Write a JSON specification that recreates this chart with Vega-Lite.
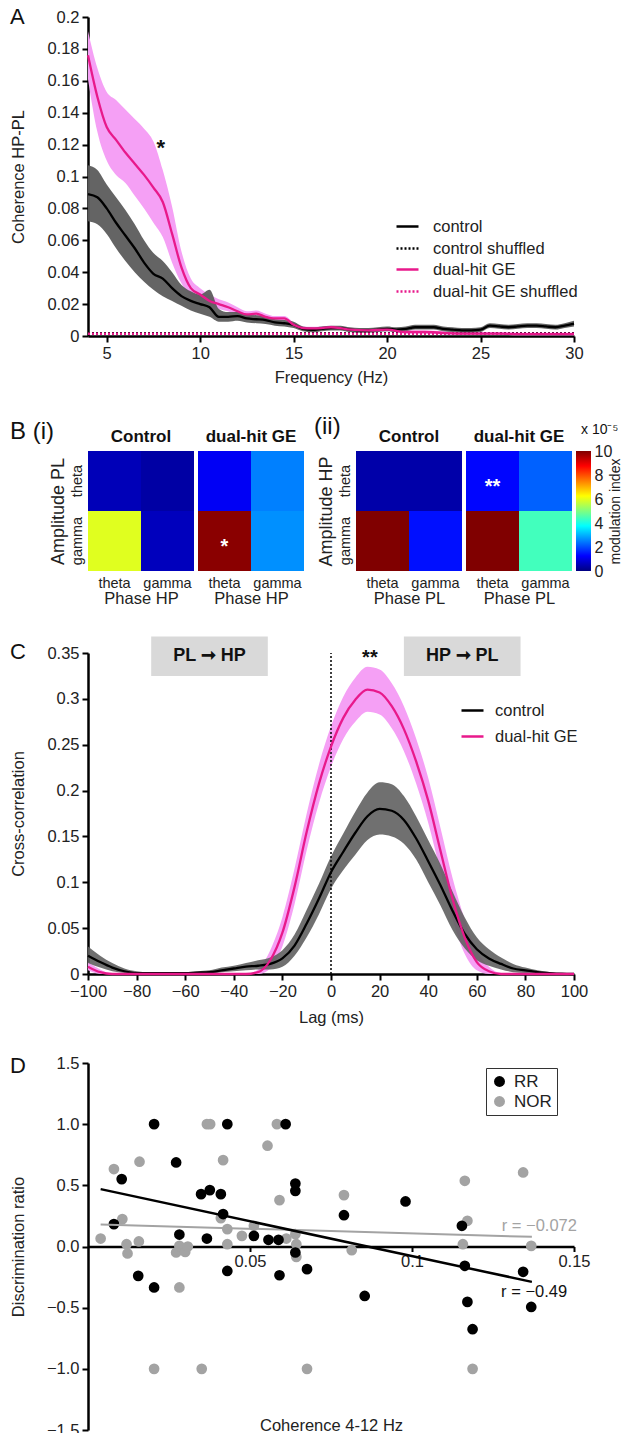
{
"$schema": "https://vega.github.io/schema/vega-lite/v6.json",
"padding": {"left": 10, "top": 6, "right": 0, "bottom": 0},
"columns": 1,
"align": "none",
"spacing": 29,
"config": {
  "font": "Liberation Sans",
  "view": {"stroke": null},
  "axis": {"labelFontSize": 16.5, "labelColor": "#222", "titleFontSize": 16.5, "titleFontWeight": "normal", "titleColor": "#222", "grid": false, "domainColor": "#000", "domainWidth": 2.5, "tickColor": "#000", "tickWidth": 2, "tickSize": 6, "labelPadding": 3, "labelOverlap": false, "labelFlush": false},
  "legend": {"labelFontSize": 16.5, "labelColor": "#222"},
  "title": {"color": "#111"}
},
"datasets": {
  "coh": [
    {"f":4,"series":"control","m":0.089,"lo":0.072,"hi":0.107},
    {"f":4.5,"series":"control","m":0.087,"lo":0.070,"hi":0.104},
    {"f":5,"series":"control","m":0.080,"lo":0.064,"hi":0.095},
    {"f":5.5,"series":"control","m":0.071,"lo":0.055,"hi":0.087},
    {"f":6,"series":"control","m":0.063,"lo":0.047,"hi":0.079},
    {"f":6.5,"series":"control","m":0.055,"lo":0.040,"hi":0.070},
    {"f":7,"series":"control","m":0.046,"lo":0.034,"hi":0.060},
    {"f":7.5,"series":"control","m":0.039,"lo":0.029,"hi":0.052},
    {"f":8,"series":"control","m":0.036,"lo":0.025,"hi":0.047},
    {"f":8.5,"series":"control","m":0.030,"lo":0.022,"hi":0.040},
    {"f":9,"series":"control","m":0.025,"lo":0.019,"hi":0.032},
    {"f":9.5,"series":"control","m":0.022,"lo":0.016,"hi":0.028},
    {"f":10,"series":"control","m":0.020,"lo":0.014,"hi":0.026},
    {"f":10.5,"series":"control","m":0.018,"lo":0.012,"hi":0.029},
    {"f":11,"series":"control","m":0.012,"lo":0.009,"hi":0.017},
    {"f":11.5,"series":"control","m":0.012,"lo":0.009,"hi":0.015},
    {"f":12,"series":"control","m":0.0125,"lo":0.0095,"hi":0.015},
    {"f":12.5,"series":"control","m":0.011,"lo":0.0085,"hi":0.0135},
    {"f":13,"series":"control","m":0.0105,"lo":0.008,"hi":0.013},
    {"f":13.5,"series":"control","m":0.010,"lo":0.0075,"hi":0.0125},
    {"f":14,"series":"control","m":0.0085,"lo":0.0065,"hi":0.0105},
    {"f":14.5,"series":"control","m":0.008,"lo":0.006,"hi":0.010},
    {"f":15,"series":"control","m":0.007,"lo":0.005,"hi":0.009},
    {"f":15.5,"series":"control","m":0.0045,"lo":0.003,"hi":0.006},
    {"f":16,"series":"control","m":0.0038,"lo":0.0023,"hi":0.0053},
    {"f":16.5,"series":"control","m":0.0045,"lo":0.003,"hi":0.006},
    {"f":17,"series":"control","m":0.005,"lo":0.0035,"hi":0.0065},
    {"f":17.5,"series":"control","m":0.005,"lo":0.0035,"hi":0.0065},
    {"f":18,"series":"control","m":0.004,"lo":0.0025,"hi":0.0055},
    {"f":18.5,"series":"control","m":0.0035,"lo":0.002,"hi":0.005},
    {"f":19,"series":"control","m":0.0035,"lo":0.002,"hi":0.005},
    {"f":19.5,"series":"control","m":0.004,"lo":0.0025,"hi":0.0055},
    {"f":20,"series":"control","m":0.0045,"lo":0.003,"hi":0.006},
    {"f":20.5,"series":"control","m":0.004,"lo":0.0025,"hi":0.0055},
    {"f":21,"series":"control","m":0.0045,"lo":0.003,"hi":0.006},
    {"f":21.5,"series":"control","m":0.0055,"lo":0.004,"hi":0.007},
    {"f":22,"series":"control","m":0.0055,"lo":0.004,"hi":0.007},
    {"f":22.5,"series":"control","m":0.0055,"lo":0.004,"hi":0.007},
    {"f":23,"series":"control","m":0.0045,"lo":0.003,"hi":0.006},
    {"f":23.5,"series":"control","m":0.004,"lo":0.0025,"hi":0.0055},
    {"f":24,"series":"control","m":0.0035,"lo":0.002,"hi":0.005},
    {"f":24.5,"series":"control","m":0.0035,"lo":0.002,"hi":0.005},
    {"f":25,"series":"control","m":0.004,"lo":0.0025,"hi":0.0055},
    {"f":25.5,"series":"control","m":0.0065,"lo":0.005,"hi":0.008},
    {"f":26,"series":"control","m":0.006,"lo":0.0045,"hi":0.0075},
    {"f":26.5,"series":"control","m":0.0055,"lo":0.004,"hi":0.007},
    {"f":27,"series":"control","m":0.006,"lo":0.0045,"hi":0.0075},
    {"f":27.5,"series":"control","m":0.0065,"lo":0.005,"hi":0.008},
    {"f":28,"series":"control","m":0.0065,"lo":0.005,"hi":0.008},
    {"f":28.5,"series":"control","m":0.006,"lo":0.0045,"hi":0.0075},
    {"f":29,"series":"control","m":0.0055,"lo":0.004,"hi":0.007},
    {"f":29.5,"series":"control","m":0.0065,"lo":0.005,"hi":0.008},
    {"f":30,"series":"control","m":0.0078,"lo":0.006,"hi":0.0095},
    {"f":4,"series":"dual-hit GE","m":0.176,"lo":0.161,"hi":0.191},
    {"f":4.5,"series":"dual-hit GE","m":0.150,"lo":0.128,"hi":0.168},
    {"f":5,"series":"dual-hit GE","m":0.131,"lo":0.110,"hi":0.153},
    {"f":5.5,"series":"dual-hit GE","m":0.123,"lo":0.101,"hi":0.148},
    {"f":6,"series":"dual-hit GE","m":0.115,"lo":0.096,"hi":0.142},
    {"f":6.5,"series":"dual-hit GE","m":0.108,"lo":0.088,"hi":0.136},
    {"f":7,"series":"dual-hit GE","m":0.101,"lo":0.080,"hi":0.130},
    {"f":7.5,"series":"dual-hit GE","m":0.093,"lo":0.071,"hi":0.122},
    {"f":8,"series":"dual-hit GE","m":0.084,"lo":0.062,"hi":0.104},
    {"f":8.5,"series":"dual-hit GE","m":0.064,"lo":0.046,"hi":0.081},
    {"f":9,"series":"dual-hit GE","m":0.043,"lo":0.033,"hi":0.053},
    {"f":9.5,"series":"dual-hit GE","m":0.030,"lo":0.025,"hi":0.036},
    {"f":10,"series":"dual-hit GE","m":0.026,"lo":0.022,"hi":0.030},
    {"f":10.5,"series":"dual-hit GE","m":0.022,"lo":0.019,"hi":0.026},
    {"f":11,"series":"dual-hit GE","m":0.020,"lo":0.017,"hi":0.023},
    {"f":11.5,"series":"dual-hit GE","m":0.018,"lo":0.0155,"hi":0.021},
    {"f":12,"series":"dual-hit GE","m":0.0155,"lo":0.013,"hi":0.018},
    {"f":12.5,"series":"dual-hit GE","m":0.0135,"lo":0.0115,"hi":0.0155},
    {"f":13,"series":"dual-hit GE","m":0.014,"lo":0.012,"hi":0.016},
    {"f":13.5,"series":"dual-hit GE","m":0.012,"lo":0.010,"hi":0.014},
    {"f":14,"series":"dual-hit GE","m":0.011,"lo":0.0095,"hi":0.0125},
    {"f":14.5,"series":"dual-hit GE","m":0.011,"lo":0.0095,"hi":0.0125},
    {"f":15,"series":"dual-hit GE","m":0.007,"lo":0.0055,"hi":0.0085},
    {"f":15.5,"series":"dual-hit GE","m":0.005,"lo":0.004,"hi":0.006},
    {"f":16,"series":"dual-hit GE","m":0.0048,"lo":0.0038,"hi":0.0058},
    {"f":16.5,"series":"dual-hit GE","m":0.005,"lo":0.004,"hi":0.006},
    {"f":17,"series":"dual-hit GE","m":0.0055,"lo":0.0045,"hi":0.0065},
    {"f":17.5,"series":"dual-hit GE","m":0.005,"lo":0.004,"hi":0.006},
    {"f":18,"series":"dual-hit GE","m":0.004,"lo":0.003,"hi":0.005},
    {"f":19,"series":"dual-hit GE","m":0.0035,"lo":0.0025,"hi":0.0045},
    {"f":20,"series":"dual-hit GE","m":0.004,"lo":0.003,"hi":0.005},
    {"f":21,"series":"dual-hit GE","m":0.0025,"lo":0.0015,"hi":0.0035},
    {"f":22,"series":"dual-hit GE","m":0.0025,"lo":0.0015,"hi":0.0035},
    {"f":23,"series":"dual-hit GE","m":0.002,"lo":0.001,"hi":0.003},
    {"f":24,"series":"dual-hit GE","m":0.0015,"lo":0.0008,"hi":0.0025},
    {"f":25,"series":"dual-hit GE","m":0.0015,"lo":0.0008,"hi":0.0025},
    {"f":26,"series":"dual-hit GE","m":0.0015,"lo":0.0008,"hi":0.0025},
    {"f":27,"series":"dual-hit GE","m":0.0012,"lo":0.0005,"hi":0.002},
    {"f":28,"series":"dual-hit GE","m":0.0012,"lo":0.0005,"hi":0.002},
    {"f":29,"series":"dual-hit GE","m":0.0012,"lo":0.0005,"hi":0.002},
    {"f":30,"series":"dual-hit GE","m":0.0012,"lo":0.0005,"hi":0.002}
  ],
  "shuf": [
    {"f":4,"series":"control shuffled","m":0.0017},
    {"f":30,"series":"control shuffled","m":0.0017},
    {"f":4,"series":"dual-hit GE shuffled","m":0.0014},
    {"f":30,"series":"dual-hit GE shuffled","m":0.0014}
  ],
  "pac": [
    {"pair":"i","grp":"Control","phase":"theta","amp":"theta","mi":0.55,"sig":""},
    {"pair":"i","grp":"Control","phase":"gamma","amp":"theta","mi":0.35,"sig":""},
    {"pair":"i","grp":"Control","phase":"theta","amp":"gamma","mi":5.95,"sig":""},
    {"pair":"i","grp":"Control","phase":"gamma","amp":"gamma","mi":0.6,"sig":""},
    {"pair":"i","grp":"dual-hit GE","phase":"theta","amp":"theta","mi":1.15,"sig":""},
    {"pair":"i","grp":"dual-hit GE","phase":"gamma","amp":"theta","mi":2.5,"sig":""},
    {"pair":"i","grp":"dual-hit GE","phase":"theta","amp":"gamma","mi":9.9,"sig":"*"},
    {"pair":"i","grp":"dual-hit GE","phase":"gamma","amp":"gamma","mi":2.66,"sig":""},
    {"pair":"ii","grp":"Control","phase":"theta","amp":"theta","mi":0.4,"sig":""},
    {"pair":"ii","grp":"Control","phase":"gamma","amp":"theta","mi":0.4,"sig":""},
    {"pair":"ii","grp":"Control","phase":"theta","amp":"gamma","mi":10,"sig":""},
    {"pair":"ii","grp":"Control","phase":"gamma","amp":"gamma","mi":1.4,"sig":""},
    {"pair":"ii","grp":"dual-hit GE","phase":"theta","amp":"theta","mi":1.3,"sig":"**"},
    {"pair":"ii","grp":"dual-hit GE","phase":"gamma","amp":"theta","mi":2.2,"sig":""},
    {"pair":"ii","grp":"dual-hit GE","phase":"theta","amp":"gamma","mi":10,"sig":""},
    {"pair":"ii","grp":"dual-hit GE","phase":"gamma","amp":"gamma","mi":4.4,"sig":""}
  ],
  "xc": [
    {"lag":-100,"series":"control","m":0.020,"lo":0.012,"hi":0.030},
    {"lag":-95,"series":"control","m":0.013,"lo":0.007,"hi":0.020},
    {"lag":-90,"series":"control","m":0.007,"lo":0.003,"hi":0.012},
    {"lag":-85,"series":"control","m":0.003,"lo":0.001,"hi":0.006},
    {"lag":-80,"series":"control","m":0.001,"lo":0,"hi":0.003},
    {"lag":-75,"series":"control","m":0.001,"lo":0,"hi":0.002},
    {"lag":-70,"series":"control","m":0.001,"lo":0,"hi":0.002},
    {"lag":-65,"series":"control","m":0.001,"lo":0,"hi":0.002},
    {"lag":-60,"series":"control","m":0.001,"lo":0,"hi":0.002},
    {"lag":-55,"series":"control","m":0.0015,"lo":0,"hi":0.003},
    {"lag":-50,"series":"control","m":0.002,"lo":0.0005,"hi":0.004},
    {"lag":-45,"series":"control","m":0.004,"lo":0.002,"hi":0.007},
    {"lag":-40,"series":"control","m":0.006,"lo":0.003,"hi":0.009},
    {"lag":-35,"series":"control","m":0.008,"lo":0.004,"hi":0.012},
    {"lag":-30,"series":"control","m":0.009,"lo":0.005,"hi":0.015},
    {"lag":-25,"series":"control","m":0.011,"lo":0.005,"hi":0.018},
    {"lag":-20,"series":"control","m":0.017,"lo":0.008,"hi":0.026},
    {"lag":-15,"series":"control","m":0.031,"lo":0.020,"hi":0.043},
    {"lag":-10,"series":"control","m":0.055,"lo":0.040,"hi":0.070},
    {"lag":-5,"series":"control","m":0.082,"lo":0.065,"hi":0.098},
    {"lag":0,"series":"control","m":0.111,"lo":0.093,"hi":0.128},
    {"lag":5,"series":"control","m":0.133,"lo":0.113,"hi":0.153},
    {"lag":10,"series":"control","m":0.154,"lo":0.130,"hi":0.177},
    {"lag":15,"series":"control","m":0.172,"lo":0.146,"hi":0.198},
    {"lag":20,"series":"control","m":0.180,"lo":0.152,"hi":0.209},
    {"lag":25,"series":"control","m":0.178,"lo":0.150,"hi":0.207},
    {"lag":30,"series":"control","m":0.168,"lo":0.142,"hi":0.194},
    {"lag":35,"series":"control","m":0.148,"lo":0.125,"hi":0.172},
    {"lag":40,"series":"control","m":0.123,"lo":0.100,"hi":0.146},
    {"lag":45,"series":"control","m":0.097,"lo":0.075,"hi":0.120},
    {"lag":50,"series":"control","m":0.069,"lo":0.048,"hi":0.090},
    {"lag":55,"series":"control","m":0.044,"lo":0.028,"hi":0.062},
    {"lag":60,"series":"control","m":0.027,"lo":0.015,"hi":0.040},
    {"lag":65,"series":"control","m":0.017,"lo":0.009,"hi":0.027},
    {"lag":70,"series":"control","m":0.011,"lo":0.005,"hi":0.018},
    {"lag":75,"series":"control","m":0.006,"lo":0.002,"hi":0.011},
    {"lag":80,"series":"control","m":0.004,"lo":0.001,"hi":0.007},
    {"lag":85,"series":"control","m":0.002,"lo":0,"hi":0.004},
    {"lag":90,"series":"control","m":0.001,"lo":0,"hi":0.002},
    {"lag":95,"series":"control","m":0.0003,"lo":0,"hi":0.001},
    {"lag":100,"series":"control","m":0,"lo":0,"hi":0},
    {"lag":-100,"series":"dual-hit GE","m":0.008,"lo":0.004,"hi":0.013},
    {"lag":-95,"series":"dual-hit GE","m":0.002,"lo":0,"hi":0.005},
    {"lag":-90,"series":"dual-hit GE","m":0,"lo":0,"hi":0.0005},
    {"lag":-85,"series":"dual-hit GE","m":0,"lo":0,"hi":0},
    {"lag":-80,"series":"dual-hit GE","m":0,"lo":0,"hi":0},
    {"lag":-75,"series":"dual-hit GE","m":0,"lo":0,"hi":0},
    {"lag":-70,"series":"dual-hit GE","m":0,"lo":0,"hi":0},
    {"lag":-65,"series":"dual-hit GE","m":0,"lo":0,"hi":0},
    {"lag":-60,"series":"dual-hit GE","m":0,"lo":0,"hi":0},
    {"lag":-55,"series":"dual-hit GE","m":0,"lo":0,"hi":0},
    {"lag":-50,"series":"dual-hit GE","m":0,"lo":0,"hi":0},
    {"lag":-45,"series":"dual-hit GE","m":0,"lo":0,"hi":0},
    {"lag":-40,"series":"dual-hit GE","m":0,"lo":0,"hi":0},
    {"lag":-35,"series":"dual-hit GE","m":0,"lo":0,"hi":0},
    {"lag":-30,"series":"dual-hit GE","m":0.002,"lo":0,"hi":0.005},
    {"lag":-25,"series":"dual-hit GE","m":0.015,"lo":0.006,"hi":0.026},
    {"lag":-20,"series":"dual-hit GE","m":0.045,"lo":0.030,"hi":0.062},
    {"lag":-15,"series":"dual-hit GE","m":0.095,"lo":0.076,"hi":0.115},
    {"lag":-10,"series":"dual-hit GE","m":0.155,"lo":0.135,"hi":0.175},
    {"lag":-5,"series":"dual-hit GE","m":0.207,"lo":0.186,"hi":0.228},
    {"lag":0,"series":"dual-hit GE","m":0.248,"lo":0.226,"hi":0.270},
    {"lag":5,"series":"dual-hit GE","m":0.279,"lo":0.256,"hi":0.302},
    {"lag":10,"series":"dual-hit GE","m":0.299,"lo":0.275,"hi":0.323},
    {"lag":15,"series":"dual-hit GE","m":0.310,"lo":0.286,"hi":0.335},
    {"lag":20,"series":"dual-hit GE","m":0.307,"lo":0.283,"hi":0.332},
    {"lag":25,"series":"dual-hit GE","m":0.292,"lo":0.268,"hi":0.317},
    {"lag":30,"series":"dual-hit GE","m":0.267,"lo":0.243,"hi":0.292},
    {"lag":35,"series":"dual-hit GE","m":0.232,"lo":0.208,"hi":0.257},
    {"lag":40,"series":"dual-hit GE","m":0.189,"lo":0.165,"hi":0.214},
    {"lag":45,"series":"dual-hit GE","m":0.135,"lo":0.112,"hi":0.160},
    {"lag":50,"series":"dual-hit GE","m":0.082,"lo":0.060,"hi":0.105},
    {"lag":55,"series":"dual-hit GE","m":0.040,"lo":0.022,"hi":0.060},
    {"lag":60,"series":"dual-hit GE","m":0.013,"lo":0.004,"hi":0.026},
    {"lag":65,"series":"dual-hit GE","m":0.003,"lo":0,"hi":0.008},
    {"lag":70,"series":"dual-hit GE","m":0,"lo":0,"hi":0.001},
    {"lag":75,"series":"dual-hit GE","m":0,"lo":0,"hi":0},
    {"lag":80,"series":"dual-hit GE","m":0,"lo":0,"hi":0},
    {"lag":85,"series":"dual-hit GE","m":0,"lo":0,"hi":0},
    {"lag":90,"series":"dual-hit GE","m":0,"lo":0,"hi":0},
    {"lag":95,"series":"dual-hit GE","m":0,"lo":0,"hi":0},
    {"lag":100,"series":"dual-hit GE","m":0,"lo":0,"hi":0}
  ],
  "pts": [
    {"test":"NOR","coh":0.0039,"dr":0.065},
    {"test":"NOR","coh":0.008,"dr":0.633},
    {"test":"NOR","coh":0.0106,"dr":0.224},
    {"test":"NOR","coh":0.0119,"dr":0.019},
    {"test":"NOR","coh":0.0122,"dr":-0.057},
    {"test":"NOR","coh":0.0157,"dr":0.041},
    {"test":"NOR","coh":0.0159,"dr":0.693},
    {"test":"NOR","coh":0.0204,"dr":-1.0},
    {"test":"NOR","coh":0.0272,"dr":-0.049},
    {"test":"NOR","coh":0.0282,"dr":-0.335},
    {"test":"NOR","coh":0.0282,"dr":0.005},
    {"test":"NOR","coh":0.030,"dr":-0.044},
    {"test":"NOR","coh":0.0308,"dr":0.0},
    {"test":"NOR","coh":0.0351,"dr":-1.0},
    {"test":"NOR","coh":0.0367,"dr":1.0},
    {"test":"NOR","coh":0.0377,"dr":1.0},
    {"test":"NOR","coh":0.041,"dr":0.232},
    {"test":"NOR","coh":0.0417,"dr":0.706},
    {"test":"NOR","coh":0.043,"dr":0.142},
    {"test":"NOR","coh":0.043,"dr":0.019},
    {"test":"NOR","coh":0.0475,"dr":0.087},
    {"test":"NOR","coh":0.0512,"dr":0.169},
    {"test":"NOR","coh":0.0554,"dr":0.824},
    {"test":"NOR","coh":0.0583,"dr":1.0},
    {"test":"NOR","coh":0.0591,"dr":0.379},
    {"test":"NOR","coh":0.0612,"dr":0.065},
    {"test":"NOR","coh":0.064,"dr":0.101},
    {"test":"NOR","coh":0.0643,"dr":0.019},
    {"test":"NOR","coh":0.0643,"dr":-0.085},
    {"test":"NOR","coh":0.0676,"dr":-1.0},
    {"test":"NOR","coh":0.079,"dr":0.42},
    {"test":"NOR","coh":0.0814,"dr":-0.03},
    {"test":"NOR","coh":0.1157,"dr":0.019},
    {"test":"NOR","coh":0.1163,"dr":0.537},
    {"test":"NOR","coh":0.1171,"dr":0.21},
    {"test":"NOR","coh":0.1187,"dr":-1.0},
    {"test":"NOR","coh":0.1343,"dr":0.605},
    {"test":"NOR","coh":0.1368,"dr":0.005},
    {"test":"RR","coh":0.008,"dr":0.183},
    {"test":"RR","coh":0.0104,"dr":0.551},
    {"test":"RR","coh":0.0155,"dr":-0.24},
    {"test":"RR","coh":0.0204,"dr":1.0},
    {"test":"RR","coh":0.0204,"dr":-0.335},
    {"test":"RR","coh":0.0272,"dr":0.687},
    {"test":"RR","coh":0.0282,"dr":0.098},
    {"test":"RR","coh":0.0349,"dr":0.428},
    {"test":"RR","coh":0.0376,"dr":0.461},
    {"test":"RR","coh":0.0367,"dr":0.065},
    {"test":"RR","coh":0.041,"dr":0.428},
    {"test":"RR","coh":0.0417,"dr":0.265},
    {"test":"RR","coh":0.043,"dr":1.0},
    {"test":"RR","coh":0.043,"dr":-0.2},
    {"test":"RR","coh":0.0512,"dr":0.087},
    {"test":"RR","coh":0.0557,"dr":0.055},
    {"test":"RR","coh":0.0588,"dr":0.055},
    {"test":"RR","coh":0.0591,"dr":-0.235},
    {"test":"RR","coh":0.061,"dr":1.0},
    {"test":"RR","coh":0.064,"dr":0.515},
    {"test":"RR","coh":0.064,"dr":0.455},
    {"test":"RR","coh":0.064,"dr":-0.049},
    {"test":"RR","coh":0.0676,"dr":-0.185},
    {"test":"RR","coh":0.079,"dr":0.256},
    {"test":"RR","coh":0.0854,"dr":-0.404},
    {"test":"RR","coh":0.098,"dr":0.368},
    {"test":"RR","coh":0.1154,"dr":0.169},
    {"test":"RR","coh":0.1163,"dr":-0.158},
    {"test":"RR","coh":0.1171,"dr":-0.453},
    {"test":"RR","coh":0.1187,"dr":-0.676},
    {"test":"RR","coh":0.1343,"dr":-0.207},
    {"test":"RR","coh":0.1368,"dr":-0.494}
  ],
  "fits": [
    {"test":"NOR","coh":0.0039,"dr":0.18},
    {"test":"NOR","coh":0.137,"dr":0.079},
    {"test":"RR","coh":0.0039,"dr":0.469},
    {"test":"RR","coh":0.137,"dr":-0.289}
  ],
  "rlab": [
    {"test":"NOR","coh":0.1393,"dr":0.164,"t":"r = −0.072"},
    {"test":"RR","coh":0.1377,"dr":-0.37,"t":"r = −0.49"}
  ]
},
"concat": [
  {
    "width": 486, "height": 319,
    "title": {"text": "A", "anchor": "start", "frame": "bounds", "fontSize": 22, "fontWeight": "normal", "offset": -20},
    "layer": [
      {
        "data": {"name": "coh"},
        "transform": [{"filter": "datum.series === 'dual-hit GE'"}],
        "mark": {"type": "area", "color": "#f5a0f5", "opacity": 1, "interpolate": "monotone"},
        "encoding": {
          "x": {"field": "f", "type": "quantitative", "scale": {"domain": [4, 30], "nice": false, "zero": false}, "axis": {"values": [5,10,15,20,25,30], "title": "Frequency (Hz)", "titlePadding": 8}},
          "y": {"field": "lo", "type": "quantitative", "scale": {"domain": [0, 0.2], "nice": false}, "axis": {"values": [0,0.02,0.04,0.06,0.08,0.1,0.12,0.14,0.16,0.18,0.2], "tickCount": 11, "labelOverlap": false, "format": ".2~f", "title": "Coherence HP-PL", "minExtent": 40, "maxExtent": 40, "titlePadding": 22}},
          "y2": {"field": "hi"}
        }
      },
      {
        "data": {"name": "coh"},
        "transform": [{"filter": "datum.series === 'control'"}],
        "mark": {"type": "area", "color": "#5c5c5c", "opacity": 0.95, "interpolate": "monotone"},
        "encoding": {
          "x": {"field": "f", "type": "quantitative"},
          "y": {"field": "lo", "type": "quantitative"},
          "y2": {"field": "hi"}
        }
      },
      {
        "data": {"name": "shuf"},
        "mark": {"type": "line", "strokeWidth": 2.5, "strokeDash": [2, 2]},
        "encoding": {
          "x": {"field": "f", "type": "quantitative"},
          "y": {"field": "m", "type": "quantitative"},
          "stroke": {"field": "series", "type": "nominal", "scale": {"domain": ["control shuffled", "dual-hit GE shuffled"], "range": ["#000000", "#e8198b"]}, "legend": {"title": null, "orient": "none", "legendX": 307, "legendY": 219, "symbolType": "stroke", "symbolSize": 484, "symbolStrokeWidth": 2.5, "symbolDash": [2, 2], "labelFontSize": 16.5, "labelOffset": 13, "rowPadding": 22}}
        }
      },
      {
        "data": {"name": "coh"},
        "mark": {"type": "line", "strokeWidth": 2.3, "interpolate": "monotone"},
        "encoding": {
          "x": {"field": "f", "type": "quantitative"},
          "y": {"field": "m", "type": "quantitative"},
          "color": {"field": "series", "type": "nominal", "scale": {"domain": ["control", "dual-hit GE"], "range": ["#000000", "#e8198b"]}, "legend": {"title": null, "orient": "none", "legendX": 307, "legendY": 197, "symbolType": "stroke", "symbolSize": 484, "symbolStrokeWidth": 2.5, "labelFontSize": 16.5, "labelOffset": 13, "rowPadding": 22}}
        }
      },
      {
        "data": {"values": [{"f": 7.9, "v": 0.118, "t": "*"}]},
        "mark": {"type": "text", "fontSize": 22, "fontWeight": "bold", "color": "#111", "baseline": "middle"},
        "encoding": {
          "x": {"field": "f", "type": "quantitative"},
          "y": {"field": "v", "type": "quantitative"},
          "text": {"field": "t"}
        }
      }
    ]
  },
  {
    "concat": [
      {
        "title": {"text": "B (i)", "anchor": "start", "frame": "bounds", "fontSize": 24, "fontWeight": "normal", "offset": -16, "dx": -39},
        "hconcat": [
          {
            "width": 106, "height": 120,
            "title": {"text": "Control", "fontSize": 17, "fontWeight": "bold", "offset": 5},
            "data": {"name": "pac"},
            "transform": [{"filter": "datum.pair === 'i' && datum.grp === 'Control'"}],
            "encoding": {
              "x": {"field": "phase", "type": "nominal", "sort": ["theta", "gamma"], "scale": {"paddingInner": 0, "paddingOuter": 0}, "axis": {"title": "Phase HP", "ticks": false, "domain": false, "labelAngle": 0, "labelFontSize": 14.5, "labelPadding": 5, "titleFontSize": 16.5, "titlePadding": 1}},
              "y": {"field": "amp", "type": "nominal", "sort": ["theta", "gamma"], "scale": {"paddingInner": 0, "paddingOuter": 0}, "axis": {"title": "Amplitude PL", "ticks": false, "domain": false, "labelAngle": -90, "labelAlign": "center", "labelBaseline": "bottom", "labelFontSize": 14.5, "labelPadding": 4, "titleFontSize": 18, "titlePadding": 2, "minExtent": 0, "maxExtent": 25}}
            },
            "layer": [
              {"mark": "rect", "encoding": {"color": {"field": "mi", "type": "quantitative", "scale": {"type": "linear", "domain": [0, 1.25, 3.75, 6.25, 8.75, 10], "range": ["#000080", "#0000ff", "#00ffff", "#ffff00", "#ff0000", "#800000"], "interpolate": "rgb"}, "legend": null}}},
              {"transform": [{"filter": "datum.sig !== ''"}], "mark": {"type": "text", "color": "white", "fontSize": 20, "fontWeight": "bold", "baseline": "middle", "dy": 6}, "encoding": {"text": {"field": "sig"}}}
            ]
          },
          {
            "width": 106, "height": 120,
            "title": {"text": "dual-hit GE", "fontSize": 17, "fontWeight": "bold", "offset": 5},
            "data": {"name": "pac"},
            "transform": [{"filter": "datum.pair === 'i' && datum.grp === 'dual-hit GE'"}],
            "encoding": {
              "x": {"field": "phase", "type": "nominal", "sort": ["theta", "gamma"], "scale": {"paddingInner": 0, "paddingOuter": 0}, "axis": {"title": "Phase HP", "ticks": false, "domain": false, "labelAngle": 0, "labelFontSize": 14.5, "labelPadding": 5, "titleFontSize": 16.5, "titlePadding": 1}},
              "y": {"field": "amp", "type": "nominal", "sort": ["theta", "gamma"], "scale": {"paddingInner": 0, "paddingOuter": 0}, "axis": null}
            },
            "layer": [
              {"mark": "rect", "encoding": {"color": {"field": "mi", "type": "quantitative", "scale": {"type": "linear", "domain": [0, 1.25, 3.75, 6.25, 8.75, 10], "range": ["#000080", "#0000ff", "#00ffff", "#ffff00", "#ff0000", "#800000"], "interpolate": "rgb"}, "legend": null}}},
              {"transform": [{"filter": "datum.sig !== ''"}], "mark": {"type": "text", "color": "white", "fontSize": 20, "fontWeight": "bold", "baseline": "middle", "dy": 6}, "encoding": {"text": {"field": "sig"}}}
            ]
          }
        ],
        "spacing": 4
      },
      {
        "title": {"text": "(ii)", "anchor": "start", "frame": "bounds", "fontSize": 24, "fontWeight": "normal", "offset": -16, "dx": -3},
        "hconcat": [
          {
            "width": 106, "height": 120,
            "title": {"text": "Control", "fontSize": 17, "fontWeight": "bold", "offset": 5},
            "data": {"name": "pac"},
            "transform": [{"filter": "datum.pair === 'ii' && datum.grp === 'Control'"}],
            "encoding": {
              "x": {"field": "phase", "type": "nominal", "sort": ["theta", "gamma"], "scale": {"paddingInner": 0, "paddingOuter": 0}, "axis": {"title": "Phase PL", "ticks": false, "domain": false, "labelAngle": 0, "labelFontSize": 14.5, "labelPadding": 5, "titleFontSize": 16.5, "titlePadding": 1}},
              "y": {"field": "amp", "type": "nominal", "sort": ["theta", "gamma"], "scale": {"paddingInner": 0, "paddingOuter": 0}, "axis": {"title": "Amplitude HP", "ticks": false, "domain": false, "labelAngle": -90, "labelAlign": "center", "labelBaseline": "bottom", "labelFontSize": 14.5, "labelPadding": 4, "titleFontSize": 18, "titlePadding": 2, "minExtent": 0, "maxExtent": 25}}
            },
            "layer": [
              {"mark": "rect", "encoding": {"color": {"field": "mi", "type": "quantitative", "scale": {"type": "linear", "domain": [0, 1.25, 3.75, 6.25, 8.75, 10], "range": ["#000080", "#0000ff", "#00ffff", "#ffff00", "#ff0000", "#800000"], "interpolate": "rgb"}, "legend": null}}},
              {"transform": [{"filter": "datum.sig !== ''"}], "mark": {"type": "text", "color": "white", "fontSize": 20, "fontWeight": "bold", "baseline": "middle", "dy": 6}, "encoding": {"text": {"field": "sig"}}}
            ]
          },
          {
            "width": 106, "height": 120,
            "title": {"text": "dual-hit GE", "fontSize": 17, "fontWeight": "bold", "offset": 5},
            "data": {"name": "pac"},
            "transform": [{"filter": "datum.pair === 'ii' && datum.grp === 'dual-hit GE'"}],
            "encoding": {
              "x": {"field": "phase", "type": "nominal", "sort": ["theta", "gamma"], "scale": {"paddingInner": 0, "paddingOuter": 0}, "axis": {"title": "Phase PL", "ticks": false, "domain": false, "labelAngle": 0, "labelFontSize": 14.5, "labelPadding": 5, "titleFontSize": 16.5, "titlePadding": 1}},
              "y": {"field": "amp", "type": "nominal", "sort": ["theta", "gamma"], "scale": {"paddingInner": 0, "paddingOuter": 0}, "axis": null}
            },
            "layer": [
              {"mark": "rect", "encoding": {"color": {"field": "mi", "type": "quantitative", "scale": {"type": "linear", "domain": [0, 1.25, 3.75, 6.25, 8.75, 10], "range": ["#000080", "#0000ff", "#00ffff", "#ffff00", "#ff0000", "#800000"], "interpolate": "rgb"}, "legend": null}}},
              {"transform": [{"filter": "datum.sig !== ''"}], "mark": {"type": "text", "color": "white", "fontSize": 20, "fontWeight": "bold", "baseline": "middle", "dy": 6}, "encoding": {"text": {"field": "sig"}}}
            ]
          },
          {
            "width": 15, "height": 120,
            "title": {"text": "x 10⁻⁵", "anchor": "start", "dx": 5, "fontSize": 14, "fontWeight": "normal", "offset": 6},
            "data": {"values": [{"lo": 0, "hi": 10}]},
            "mark": {"type": "rect", "fill": {"gradient": "linear", "x1": 0, "y1": 1, "x2": 0, "y2": 0, "stops": [{"offset": 0, "color": "#000080"}, {"offset": 0.125, "color": "#0000ff"}, {"offset": 0.375, "color": "#00ffff"}, {"offset": 0.625, "color": "#ffff00"}, {"offset": 0.875, "color": "#ff0000"}, {"offset": 1, "color": "#800000"}]}},
            "encoding": {
              "y": {"field": "lo", "type": "quantitative", "scale": {"domain": [0, 10], "nice": false}, "axis": {"orient": "right", "values": [0, 2, 4, 6, 8, 10], "ticks": false, "domain": false, "labelFontSize": 16, "labelPadding": 3, "title": "modulation index", "titleFontSize": 14, "titleAngle": 270, "titleBaseline": "top", "titlePadding": -3}},
              "y2": {"field": "hi"}
            }
          }
        ],
        "spacing": 4
      }
    ],
    "columns": 2,
    "align": "none",
    "spacing": 10
  },
  {
    "width": 486, "height": 321,
    "title": {"text": "C", "anchor": "start", "frame": "bounds", "fontSize": 22, "fontWeight": "normal", "offset": -28},
    "layer": [
      {
        "data": {"name": "xc"},
        "transform": [{"filter": "datum.series === 'dual-hit GE'"}],
        "mark": {"type": "area", "color": "#f5a0f5", "opacity": 1, "interpolate": "monotone"},
        "encoding": {
          "x": {"field": "lag", "type": "quantitative", "scale": {"domain": [-100, 100], "nice": false}, "axis": {"values": [-100,-80,-60,-40,-20,0,20,40,60,80,100], "title": "Lag (ms)", "titlePadding": 10}},
          "y": {"field": "lo", "type": "quantitative", "scale": {"domain": [0, 0.35], "nice": false}, "axis": {"values": [0,0.05,0.1,0.15,0.2,0.25,0.3,0.35], "format": ".2~f", "title": "Cross-correlation", "minExtent": 40, "maxExtent": 40, "titlePadding": 22}},
          "y2": {"field": "hi"}
        }
      },
      {
        "data": {"name": "xc"},
        "transform": [{"filter": "datum.series === 'control'"}],
        "mark": {"type": "area", "color": "#606060", "opacity": 0.9, "interpolate": "monotone"},
        "encoding": {
          "x": {"field": "lag", "type": "quantitative"},
          "y": {"field": "lo", "type": "quantitative"},
          "y2": {"field": "hi"}
        }
      },
      {
        "data": {"values": [{"lag": 0, "y0": 0, "y1": 0.35}]},
        "mark": {"type": "rule", "strokeDash": [2, 2], "strokeWidth": 1.5, "color": "#000"},
        "encoding": {
          "x": {"field": "lag", "type": "quantitative"},
          "y": {"field": "y0", "type": "quantitative"},
          "y2": {"field": "y1"}
        }
      },
      {
        "data": {"name": "xc"},
        "mark": {"type": "line", "strokeWidth": 2.3, "interpolate": "monotone"},
        "encoding": {
          "x": {"field": "lag", "type": "quantitative"},
          "y": {"field": "m", "type": "quantitative"},
          "color": {"field": "series", "type": "nominal", "scale": {"domain": ["control", "dual-hit GE"], "range": ["#000000", "#e8198b"]}, "legend": {"title": null, "orient": "none", "legendX": 372, "legendY": 45, "symbolType": "stroke", "symbolSize": 484, "symbolStrokeWidth": 2.5, "labelFontSize": 16.5, "labelOffset": 10, "rowPadding": 5}}
        }
      },
      {
        "data": {"values": [{"x1": -74, "x2": -26, "y1": 0.325, "y2": 0.368, "xc": -50, "yc": 0.3465, "t": "PL ➞ HP"}, {"x1": 30, "x2": 78, "y1": 0.325, "y2": 0.368, "xc": 54, "yc": 0.3465, "t": "HP ➞ PL"}]},
        "layer": [
          {"mark": {"type": "rect", "color": "#d9d9d9"}, "encoding": {"x": {"field": "x1", "type": "quantitative"}, "x2": {"field": "x2"}, "y": {"field": "y1", "type": "quantitative"}, "y2": {"field": "y2"}}},
          {"mark": {"type": "text", "fontSize": 18, "fontWeight": "bold", "color": "#111", "baseline": "middle"}, "encoding": {"x": {"field": "xc", "type": "quantitative"}, "y": {"field": "yc", "type": "quantitative"}, "text": {"field": "t"}}}
        ]
      },
      {
        "data": {"values": [{"lag": 16, "v": 0.345, "t": "**"}]},
        "mark": {"type": "text", "fontSize": 20, "fontWeight": "bold", "color": "#111", "baseline": "middle"},
        "encoding": {
          "x": {"field": "lag", "type": "quantitative"},
          "y": {"field": "v", "type": "quantitative"},
          "text": {"field": "t"}
        }
      }
    ]
  },
  {
    "width": 486, "height": 367,
    "title": {"text": "D", "anchor": "start", "frame": "bounds", "fontSize": 22, "fontWeight": "normal", "offset": -23},
    "layer": [
      {
        "data": {"name": "pts"},
        "mark": {"type": "circle", "size": 115, "opacity": 1},
        "encoding": {
          "x": {"field": "coh", "type": "quantitative", "scale": {"domain": [0, 0.15], "nice": false}, "axis": {"orient": "bottom", "offset": -183.5, "values": [0.05, 0.1, 0.15], "format": ".2~f", "tickSize": 5, "labelPadding": 2, "title": "Coherence 4-12 Hz", "titleY": 171}},
          "y": {"field": "dr", "type": "quantitative", "scale": {"domain": [-1.5, 1.5], "nice": false}, "axis": {"values": [-1.5, -1, -0.5, 0, 0.5, 1, 1.5], "format": ".1f", "title": "Discrimination ratio", "minExtent": 40, "maxExtent": 40, "titlePadding": 22}},
          "color": {"field": "test", "type": "nominal", "scale": {"domain": ["RR", "NOR"], "range": ["#000000", "#a3a3a3"]}, "legend": {"title": null, "orient": "none", "legendX": 398, "legendY": 5, "strokeColor": "#333", "padding": 5, "rowPadding": 2, "symbolType": "circle", "symbolSize": 120, "symbolOpacity": 1, "labelFontSize": 17, "labelOffset": 6}}
        }
      },
      {
        "data": {"name": "fits"},
        "transform": [{"filter": "datum.test === 'NOR'"}],
        "mark": {"type": "line", "color": "#a3a3a3", "strokeWidth": 2},
        "encoding": {"x": {"field": "coh", "type": "quantitative"}, "y": {"field": "dr", "type": "quantitative"}}
      },
      {
        "data": {"name": "fits"},
        "transform": [{"filter": "datum.test === 'RR'"}],
        "mark": {"type": "line", "color": "#000000", "strokeWidth": 2.5},
        "encoding": {"x": {"field": "coh", "type": "quantitative"}, "y": {"field": "dr", "type": "quantitative"}}
      },
      {
        "data": {"name": "rlab"},
        "transform": [{"filter": "datum.test === 'NOR'"}],
        "mark": {"type": "text", "fontSize": 16.5, "color": "#a3a3a3", "baseline": "middle"},
        "encoding": {"x": {"field": "coh", "type": "quantitative"}, "y": {"field": "dr", "type": "quantitative"}, "text": {"field": "t"}}
      },
      {
        "data": {"name": "rlab"},
        "transform": [{"filter": "datum.test === 'RR'"}],
        "mark": {"type": "text", "fontSize": 16.5, "color": "#111", "baseline": "middle"},
        "encoding": {"x": {"field": "coh", "type": "quantitative"}, "y": {"field": "dr", "type": "quantitative"}, "text": {"field": "t"}}
      }
    ]
  }
]
}
